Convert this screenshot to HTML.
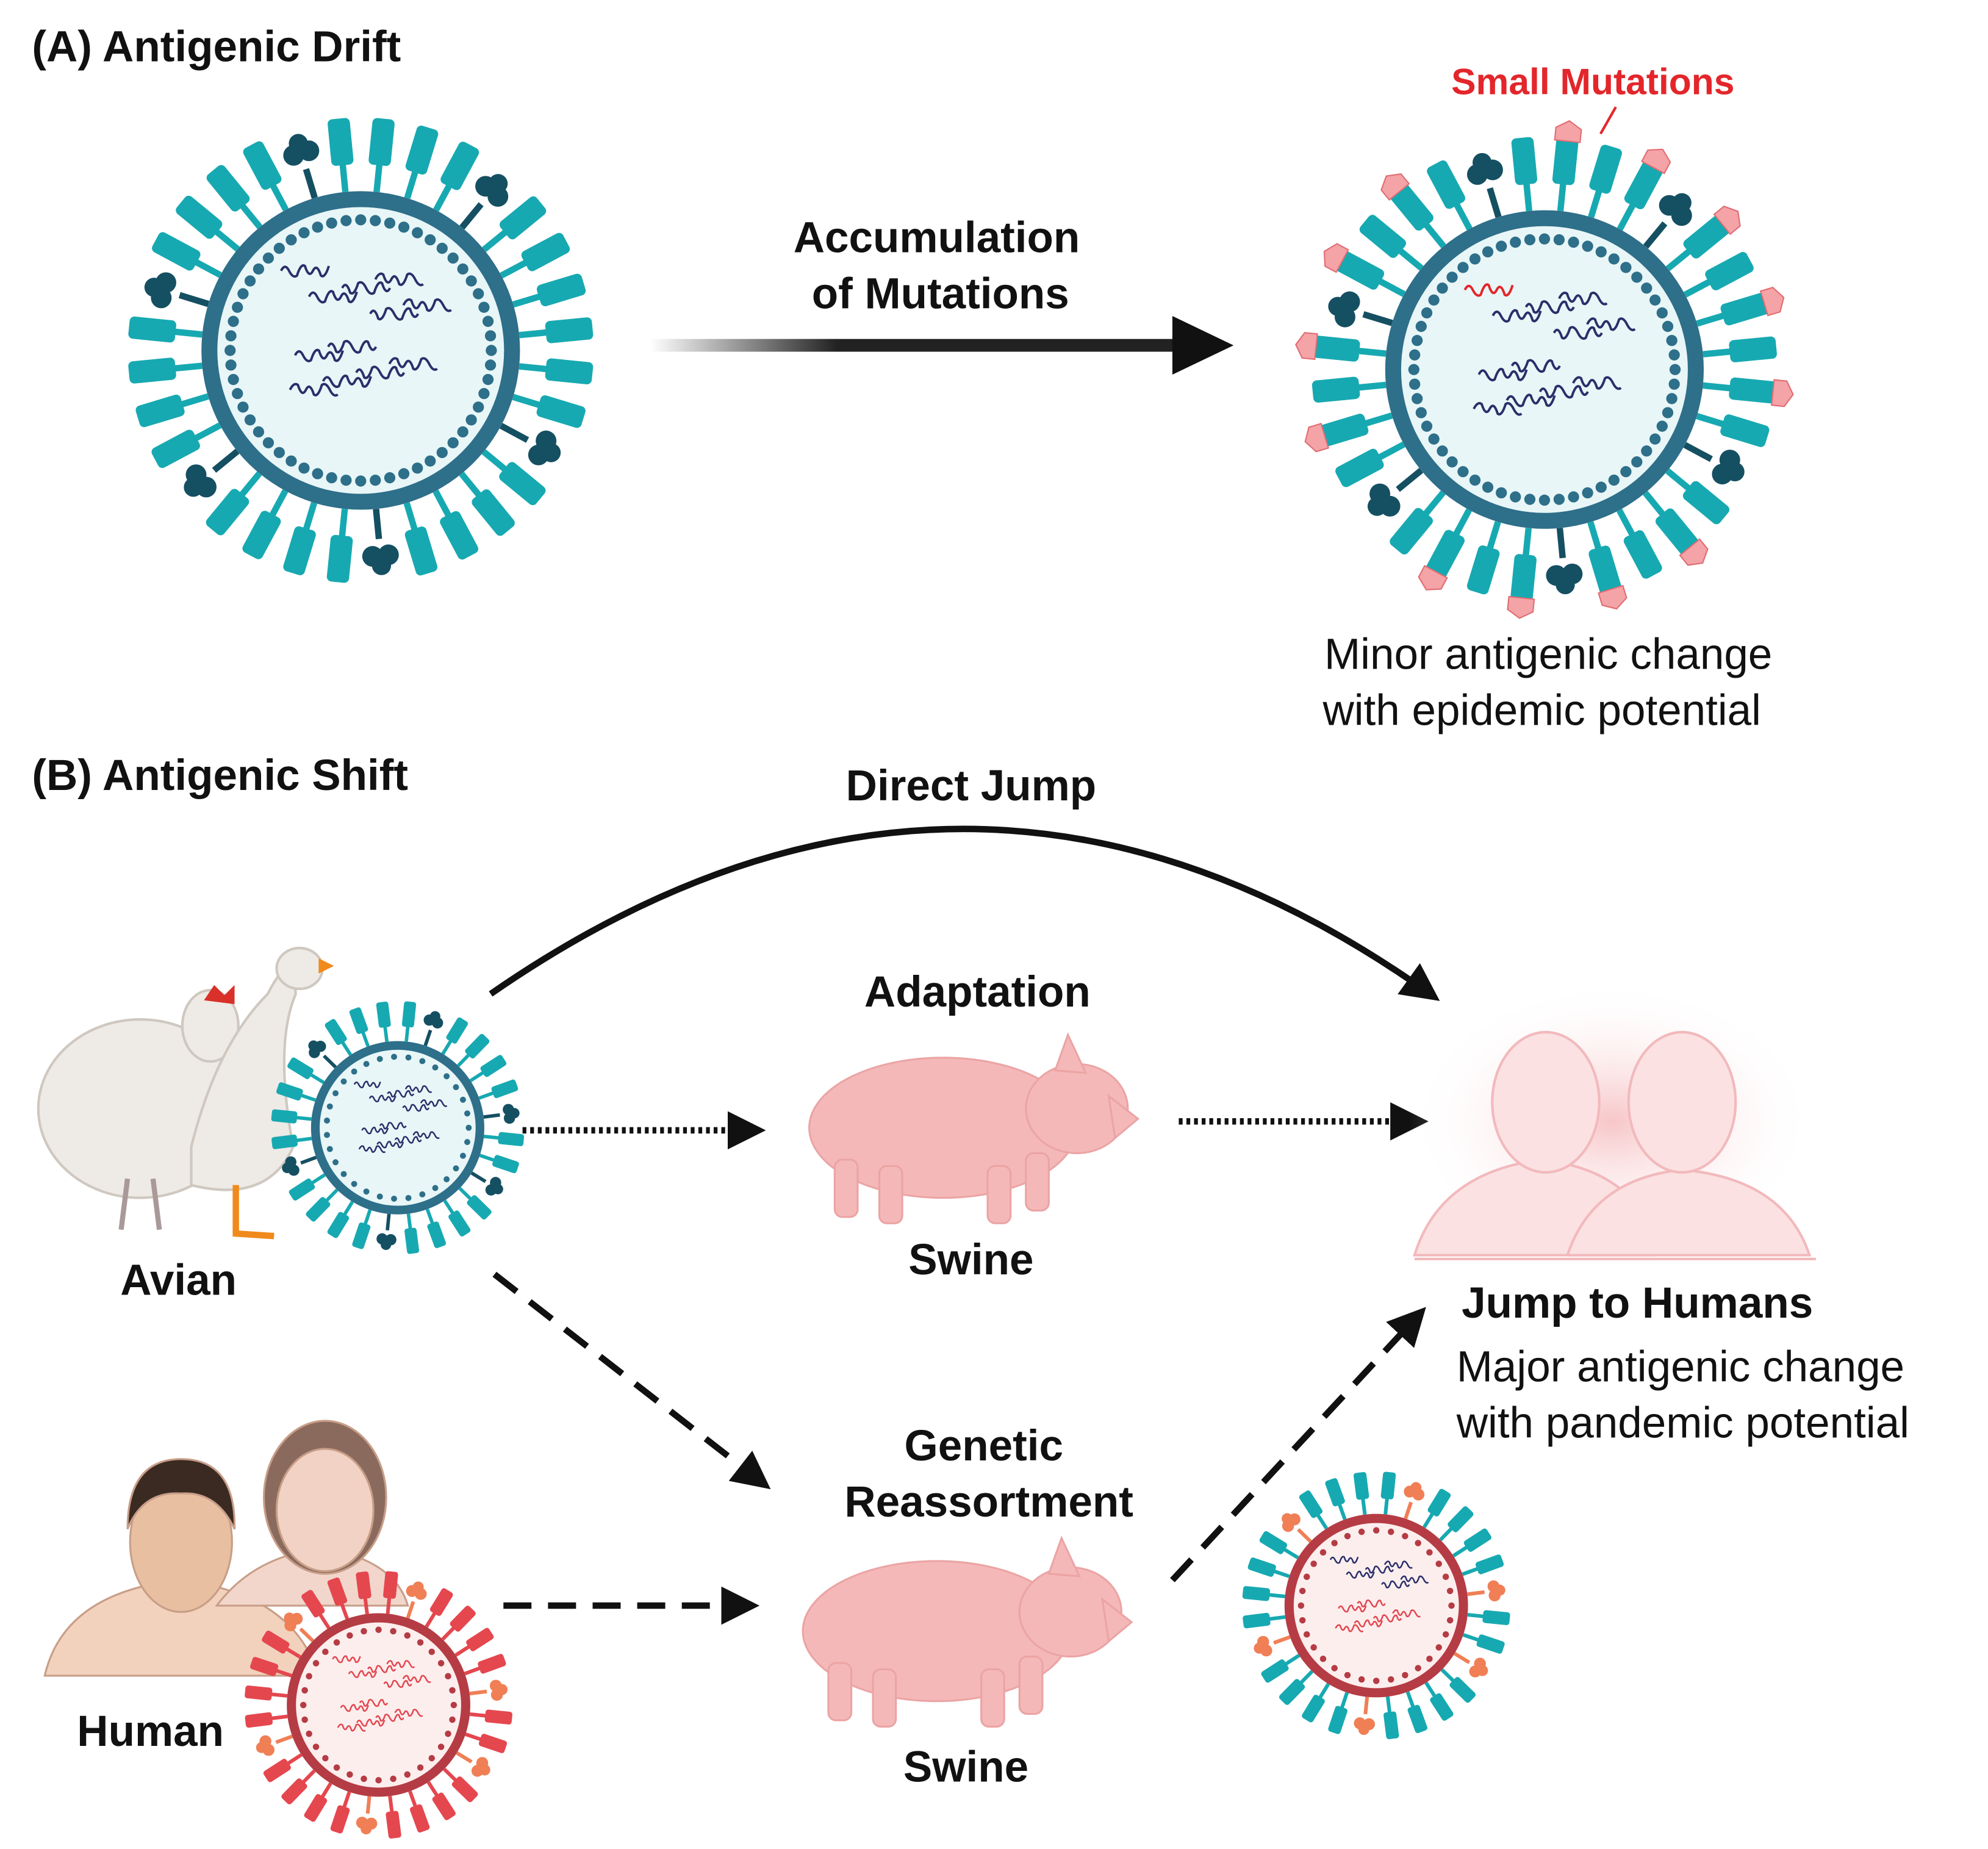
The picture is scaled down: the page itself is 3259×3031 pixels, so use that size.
<!DOCTYPE html>
<html><head><meta charset="utf-8">
<style>
html,body{margin:0;padding:0;background:#fff;}
svg{display:block;}
text{font-family:"Liberation Sans",sans-serif;}
</style></head>
<body>
<svg id="s" width="3259" height="3031" viewBox="0 0 1560 1451" xmlns="http://www.w3.org/2000/svg">
<defs>
<linearGradient id="fade" x1="0" x2="1">
<stop offset="0" stop-color="#222" stop-opacity="0"/>
<stop offset="0.35" stop-color="#222" stop-opacity="1"/>
</linearGradient>
<radialGradient id="glow"><stop offset="0" stop-color="#f7c6c8"/><stop offset="1" stop-color="#fff" stop-opacity="0"/></radialGradient>
<marker id="ah" viewBox="0 0 10 10" refX="8" refY="5" markerWidth="6" markerHeight="6" orient="auto"><path d="M0,0 L10,5 L0,10 z" fill="#111"/></marker>
</defs>
<rect width="1560" height="1451" fill="#fff"/>

<text x="25" y="48" font-size="34" font-weight="bold" fill="#111">(A) Antigenic Drift</text>
<text x="25" y="620" font-size="34" font-weight="bold" fill="#111">(B) Antigenic Shift</text>

<rect x="510" y="266" width="420" height="10" fill="url(#fade)"/>
<path d="M920,248 L968,271 L920,294 z" fill="#111"/>
<text x="735" y="198" font-size="34" font-weight="bold" text-anchor="middle" fill="#111">Accumulation</text>
<text x="738" y="242" font-size="34" font-weight="bold" text-anchor="middle" fill="#111">of Mutations</text>

<text x="1250" y="74" font-size="29" font-weight="bold" text-anchor="middle" fill="#e3262b">Small Mutations</text>
<line x1="1268" y1="84" x2="1256" y2="105" stroke="#e3262b" stroke-width="2"/>

<text x="1215" y="525" font-size="34" text-anchor="middle" fill="#111">Minor antigenic change</text>
<text x="1210" y="569" font-size="34" text-anchor="middle" fill="#111">with epidemic potential</text>

<path d="M385,780 Q760,520 1125,782" fill="none" stroke="#111" stroke-width="5" marker-end="url(#ah)"/>
<text x="762" y="628" font-size="34" font-weight="bold" text-anchor="middle" fill="#111">Direct Jump</text>
<line x1="410" y1="887" x2="595" y2="887" stroke="#111" stroke-width="5" stroke-dasharray="3,3" marker-end="url(#ah)"/>
<line x1="925" y1="880" x2="1115" y2="880" stroke="#111" stroke-width="5" stroke-dasharray="3,3" marker-end="url(#ah)"/>
<line x1="388" y1="1000" x2="600" y2="1165" stroke="#111" stroke-width="5" stroke-dasharray="22,13" marker-end="url(#ah)"/>
<line x1="395" y1="1260" x2="590" y2="1260" stroke="#111" stroke-width="5" stroke-dasharray="22,13" marker-end="url(#ah)"/>
<line x1="920" y1="1240" x2="1115" y2="1030" stroke="#111" stroke-width="5" stroke-dasharray="22,13" marker-end="url(#ah)"/>

<text x="767" y="790" font-size="34" font-weight="bold" text-anchor="middle" fill="#111">Adaptation</text>
<text x="762" y="1000" font-size="34" font-weight="bold" text-anchor="middle" fill="#111">Swine</text>
<text x="772" y="1146" font-size="34" font-weight="bold" text-anchor="middle" fill="#111">Genetic</text>
<text x="776" y="1190" font-size="34" font-weight="bold" text-anchor="middle" fill="#111">Reassortment</text>
<text x="758" y="1398" font-size="34" font-weight="bold" text-anchor="middle" fill="#111">Swine</text>
<text x="140" y="1016" font-size="34" font-weight="bold" text-anchor="middle" fill="#111">Avian</text>
<text x="118" y="1370" font-size="34" font-weight="bold" text-anchor="middle" fill="#111">Human</text>
<text x="1147" y="1034" font-size="34" font-weight="bold" fill="#111">Jump to Humans</text>
<text x="1143" y="1084" font-size="34" fill="#111">Major antigenic change</text>
<text x="1143" y="1128" font-size="34" fill="#111">with pandemic potential</text>

<ellipse cx="1265" cy="880" rx="160" ry="110" fill="url(#glow)"/>
<g fill="#fbe1e2" stroke="#f2b9bc" stroke-width="2">
<path d="M1110,985 Q1130,920 1210,910 Q1290,920 1300,985 z"/>
<path d="M1230,985 Q1250,925 1320,918 Q1400,925 1420,985 z"/>
<ellipse cx="1213" cy="865" rx="42" ry="55"/>
<ellipse cx="1320" cy="865" rx="42" ry="55"/>
</g>
<line x1="1110" y1="988" x2="1425" y2="988" stroke="#f2b7ba" stroke-width="2"/>

<g id="pig" fill="#f5b8b8" stroke="#eba4a4" stroke-width="1.5">
<ellipse cx="740" cy="885" rx="105" ry="55"/>
<ellipse cx="845" cy="870" rx="40" ry="35"/>
<path d="M870,860 L893,878 L875,893 z"/>
<path d="M828,840 L838,812 L852,842 z"/>
<rect x="655" y="910" width="18" height="45" rx="6"/>
<rect x="690" y="915" width="18" height="45" rx="6"/>
<rect x="775" y="915" width="18" height="45" rx="6"/>
<rect x="805" y="905" width="18" height="45" rx="6"/>
</g>
<use href="#pig" transform="translate(-5,395)"/>

<g fill="#eeeae6" stroke="#cfc8c0" stroke-width="2">
<ellipse cx="110" cy="870" rx="80" ry="70"/>
<ellipse cx="165" cy="805" rx="22" ry="28"/>
<path d="M150,900 Q170,820 210,780 Q220,760 230,755 L232,780 Q215,820 230,900 Q210,945 150,930 z"/>
<ellipse cx="235" cy="760" rx="18" ry="16"/>
</g>
<path d="M160,785 l8,-12 8,8 8,-8 0,15 z" fill="#d9302a"/>
<path d="M250,752 L262,758 L250,764 z" fill="#f08a1c"/>
<path d="M185,930 L185,968 L215,970" stroke="#f08a1c" stroke-width="5" fill="none"/>
<path d="M100,925 L95,965 M120,925 L125,965" stroke="#a99" stroke-width="4"/>

<g stroke="#c89e88" stroke-width="1.5">
<path d="M35,1315 Q50,1250 140,1240 Q230,1250 250,1315 z" fill="#f3d2bd"/>
<path d="M170,1260 Q200,1220 255,1215 Q310,1225 320,1260 z" fill="#f2d6cc"/>
<ellipse cx="255" cy="1175" rx="48" ry="60" fill="#8b6a5e"/>
<ellipse cx="255" cy="1185" rx="38" ry="48" fill="#f1d2c4"/>
<ellipse cx="142" cy="1210" rx="40" ry="55" fill="#e8bfa0"/>
<path d="M100,1200 Q100,1145 142,1145 Q185,1145 184,1200 Q170,1170 142,1172 Q112,1170 100,1200 z" fill="#3a2a22"/>
</g>

<g id="viruses"></g>
</svg>
<script>
const NS="http://www.w3.org/2000/svg";
const G=document.getElementById('viruses');
function el(t,a){const e=document.createElementNS(NS,t);for(const k in a)e.setAttribute(k,a[k]);G.appendChild(e);return e;}
function virus(cx,cy,R,spike,memb,inner,dot,dark,tipFn,nucCol,n,tufCol){
  for(let i=0;i<n;i++){
    const a=i/n*Math.PI*2+0.1, c=Math.cos(a), s=Math.sin(a);
    const isT=(i%5==2);
    const L=R*0.42;
    const x1=cx+c*R, y1=cy+s*R, x2=cx+c*(R+L*0.45), y2=cy+s*(R+L*0.45);
    el('line',{x1,y1,x2,y2,stroke:isT?dark:spike,'stroke-width':R*0.04});
    if(isT){
      for(let k=-1;k<=1;k+=2){el('circle',{cx:cx+c*(R+L*0.7)-s*k*R*0.05,cy:cy+s*(R+L*0.7)+c*k*R*0.05,r:R*0.065,fill:tufCol||dark});}
      el('circle',{cx:cx+c*(R+L*0.85),cy:cy+s*(R+L*0.85),r:R*0.06,fill:tufCol||dark});
    } else {
      const g=document.createElementNS(NS,'g');
      g.setAttribute('transform',`translate(${cx+c*(R+L*0.75)},${cy+s*(R+L*0.75)}) rotate(${a*180/Math.PI})`);
      const r=document.createElementNS(NS,'rect');
      r.setAttribute('x',-L*0.35);r.setAttribute('y',-R*0.07);r.setAttribute('width',L*0.7);r.setAttribute('height',R*0.14);r.setAttribute('rx',R*0.03);r.setAttribute('fill',spike);
      g.appendChild(r);
      if(tipFn&&tipFn(i)){const p=document.createElementNS(NS,'polygon');const h=R*0.08;p.setAttribute('points',`${L*0.3},${-h} ${L*0.3+h},${-h} ${L*0.3+h*1.6},0 ${L*0.3+h},${h} ${L*0.3},${h}`);p.setAttribute('fill','#f4a3a6');p.setAttribute('stroke','#e06c72');p.setAttribute('stroke-width','1');g.appendChild(p);}
      G.appendChild(g);
    }
  }
  el('circle',{cx,cy,r:R,fill:memb});
  el('circle',{cx,cy,r:R*0.9,fill:inner});
  const m=Math.round(R*0.45);
  for(let i=0;i<m;i++){const a=i/m*Math.PI*2;el('circle',{cx:cx+Math.cos(a)*R*0.82,cy:cy+Math.sin(a)*R*0.82,r:R*0.035,fill:dot});}
  for(let j=0;j<12;j++){
    const x0=cx-R*0.5+((j*37)%100)/100*R*0.8, y0=cy-R*0.5+((j*53)%100)/100*R*0.9;
    let d=`M${x0},${y0}`;for(let k=1;k<=6;k++){d+=` Q${x0+k*R*0.05-R*0.025},${y0+(k%2?-1:1)*R*0.05} ${x0+k*R*0.05},${y0+((j+k)%3-1)*R*0.03}`;}
    el('path',{d,fill:'none',stroke:nucCol(j),'stroke-width':Math.max(1.2,R*0.015)});
  }
}
virus(283,275,125,'#17a9b1','#2e6f8a','#e8f6f7','#2e6f8a','#154f62',null,()=> '#2a2f6a',32);
virus(1212,290,125,'#17a9b1','#2e6f8a','#e8f6f7','#2e6f8a','#154f62',i=>i%5!=2&&i%2==0,j=>j==0?'#e3262b':'#2a2f6a',32);
virus(312,885,68,'#17a9b1','#2e6f8a','#e8f6f7','#2e6f8a','#154f62',null,()=>'#2a2f6a',28);
virus(297,1338,72,'#e5474f','#b53c44','#fdeeee','#b53c44','#f07f56',null,()=>'#e3474f',28,'#f07f56');
virus(1080,1260,72,'#17a9b1','#b53c44','#fdeeee','#b53c44','#f07f56',null,j=>j%2?'#e3474f':'#2a2f6a',28,'#f07f56');
</script>
</body></html>
